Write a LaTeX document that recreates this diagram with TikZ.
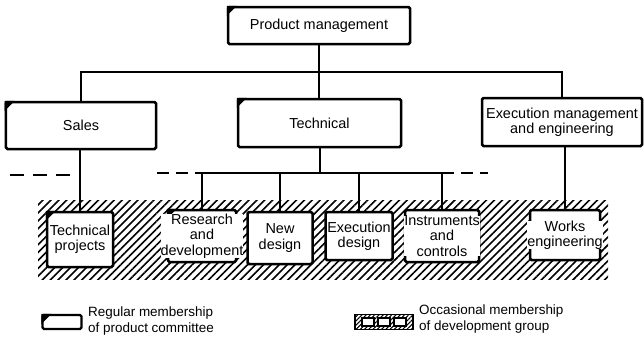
\documentclass[tikz,border=0pt]{standalone}
\usepackage{fontspec}
\setmainfont{Liberation Sans}
\usetikzlibrary{patterns.meta}

\begin{document}
\begin{tikzpicture}[x=1bp, y=-1bp,
  every node/.style={align=center, inner sep=0pt},
  unit/.style={draw, line width=2.5bp, fill=white, rounded corners=1.5bp},
  lbl/.style={font=\fontsize{14.5}{15.5}\selectfont, fill=white, inner sep=0pt},
  keytext/.style={font=\fontsize{13.5}{15.5}\selectfont, align=left, anchor=west},
  conn/.style={line width=1.4bp},
  dashline/.style={line width=1.4bp, dash pattern=on 12bp off 7bp},
  hatch/.style={pattern={Lines[angle=45, distance=5.6bp, line width=1.6bp]}},
  keybox/.style={draw, line width=1.2bp, fill=white, minimum width=12bp, minimum height=8bp}
]
\useasboundingbox (0,0) rectangle (644,346);

% development group strip
\fill[hatch] (38,200) rectangle (608,279);

% top level and departments
\node[unit, minimum width=182bp, minimum height=37bp] (prod) at (319,25.5) {};
\node[unit, minimum width=150bp, minimum height=47bp] (sales) at (81,125.5) {};
\node[unit, minimum width=163bp, minimum height=48bp] (tech) at (319.5,123) {};
\node[unit, minimum width=160bp, minimum height=48bp] (exec) at (562,122) {};

% sections
\node[unit, minimum width=66bp, minimum height=55bp] (tp) at (80,239.5) {};
\node[unit, minimum width=68bp, minimum height=52bp] (rd) at (202,236) {};
\node[unit, minimum width=65bp, minimum height=52bp] (nd) at (280,238) {};
\node[unit, minimum width=67bp, minimum height=48bp] (ed) at (359,236) {};
\node[unit, minimum width=74bp, minimum height=52bp] (ic) at (442,236) {};
\node[unit, minimum width=70bp, minimum height=50bp] (we) at (565,235) {};

% key symbols
\node[unit, line width=2.2bp, minimum width=39bp, minimum height=14bp] (key1) at (62,322) {};
\node[draw, line width=1.6bp, pattern={Lines[angle=45, distance=3bp, line width=1bp]},
      minimum width=58bp, minimum height=15bp] (key2) at (384,322) {};
\node[keybox] (key2a) at (368,322) {};
\node[keybox] (key2b) at (384,322) {};
\node[keybox] (key2c) at (400,322) {};

% corner marks: regular members of the product committee
\foreach \n in {prod, sales, tech, tp, rd, key1}
  \fill (\n.north west) -- ++(10bp,0) -- ++(-10bp,-10bp) -- cycle;

% reporting lines
\coordinate (bus) at (319,72);
\coordinate (tbus) at (320,173);
\draw[conn] (prod.south) -- (prod.south |- tech.north);
\draw[conn] (sales.north) |- (bus) -| (exec.north);
\draw[conn] (sales.south -| tp.north) -- (tp.north);
\draw[conn] (tech.south -| tbus) -- (tbus);
\draw[conn] (rd.north) |- (tbus) -| (ic.north);
\draw[conn] (nd.north) -- (nd.north |- tbus);
\draw[conn] (ed.north) -- (ed.north |- tbus);
\draw[conn] (exec.south -| we.north) -- (we.north);

% committee boundaries
\coordinate (dl) at (10,175);
\coordinate (dm) at (157,173);
\coordinate (dr) at (488,173);
\draw[dashline, dash pattern=on 14bp off 9bp] (dl) -- (dl -| tp.north);
\draw[dashline] (dm) -- (rd.north |- dm);
\draw[dashline] (ic.north |- dr) -- (dr);

% labels
\node[lbl] (prod-t) at (prod) {Product management};
\node[lbl] (sales-t) at (sales) {Sales};
\node[lbl] (tech-t) at (tech) {Technical};
\node[lbl] (exec-t) at (exec) {Execution management\\and engineering};
\node[lbl] (tp-t) at (tp) {Technical\\projects};
\node[lbl] (rd-t) at (rd) {Research\\and\\development};
\node[lbl] (nd-t) at (nd) {New\\design};
\node[lbl] (ed-t) at (ed) {Execution\\design};
\node[lbl] (ic-t) at (ic) {Instruments\\and\\controls};
\node[lbl] (we-t) at (we) {Works\\engineering};

% key texts
\node[keytext] (key1-t) at (88,321) {Regular membership\\of product committee};
\node[keytext] (key2-t) at (419,319) {Occasional membership\\of development group};
\end{tikzpicture}
\end{document}
